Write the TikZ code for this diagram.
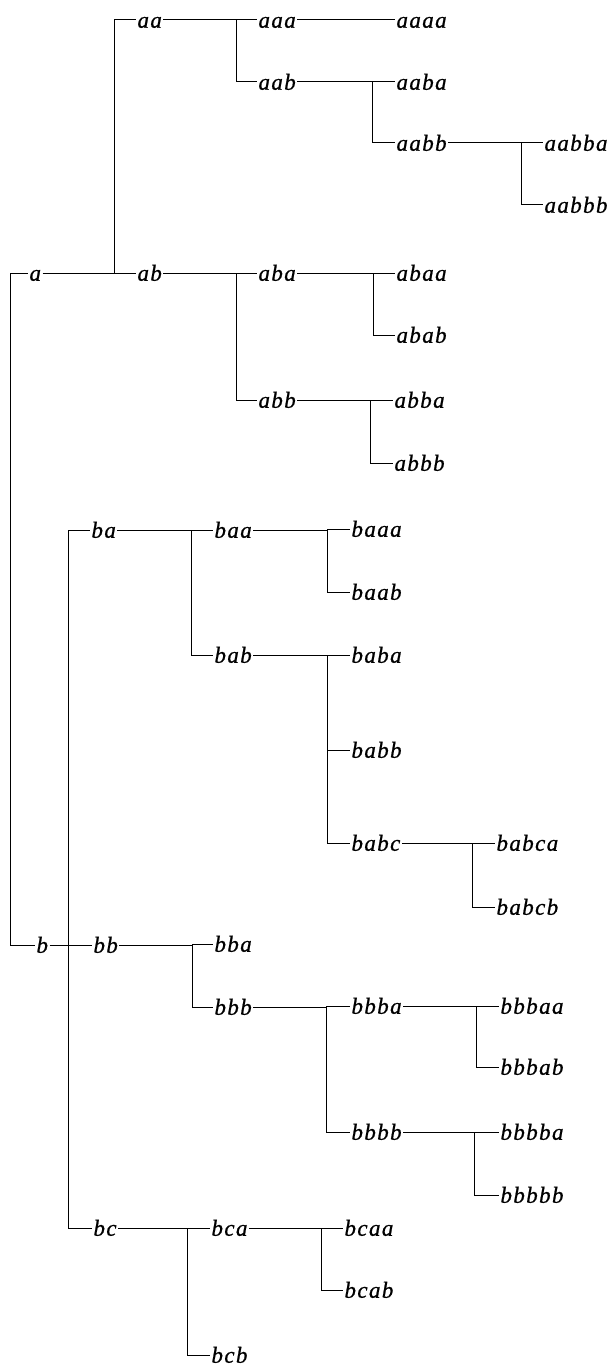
\documentclass[tikz,border=0pt]{standalone}
\usepackage{fontspec}
\newfontfamily\labfont{Liberation Serif}[LetterSpace=6,FakeBold=0.8]
\begin{document}
\begin{tikzpicture}[x=1bp,y=-1bp,
  lab/.style={anchor=west,inner sep=0pt,outer sep=1.5bp,text height=15.5bp,text depth=0pt,
    font=\labfont\fontsize{23bp}{25bp}\selectfont\itshape},
  ln/.style={line width=1bp,black}]
\useasboundingbox (0,0) rectangle (614,1370);
\newcommand\kids[5]{%
  \draw[ln] (#1.east) -- (#1.east -| #2);
  \draw[ln] (#3.west -| #2) -- (#4.west -| #2);
  \foreach \c in {#5} { \draw[ln] (\c.west -| #2) -- (\c.west); }
}
% labels
\node[lab] (a) at (28,273) {a};
\node[lab] (aa) at (136,20) {aa};
\node[lab] (ab) at (136,273) {ab};
\node[lab] (aaa) at (257,20) {aaa};
\node[lab] (aab) at (257,82) {aab};
\node[lab] (aaaa) at (395,20) {aaaa};
\node[lab] (aaba) at (395,82) {aaba};
\node[lab] (aabb) at (395,143) {aabb};
\node[lab] (aabba) at (543,143) {aabba};
\node[lab] (aabbb) at (543,205) {aabbb};
\node[lab] (aba) at (257,273) {aba};
\node[lab] (abb) at (257,400) {abb};
\node[lab] (abaa) at (395,273) {abaa};
\node[lab] (abab) at (395,335) {abab};
\node[lab] (abba) at (393,400) {abba};
\node[lab] (abbb) at (393,463) {abbb};
\node[lab] (b) at (35,945) {b};
\node[lab] (ba) at (90,530) {ba};
\node[lab] (bb) at (92,945) {bb};
\node[lab] (bc) at (92,1228) {bc};
\node[lab] (baa) at (213,530) {baa};
\node[lab] (bab) at (213,655) {bab};
\node[lab] (baaa) at (350,529) {baaa};
\node[lab] (baab) at (350,592) {baab};
\node[lab] (baba) at (350,655) {baba};
\node[lab] (babb) at (350,750) {babb};
\node[lab] (babc) at (350,843) {babc};
\node[lab] (babca) at (495,843) {babca};
\node[lab] (babcb) at (495,907) {babcb};
\node[lab] (bba) at (213,944) {bba};
\node[lab] (bbb) at (213,1007) {bbb};
\node[lab] (bbba) at (350,1006) {bbba};
\node[lab] (bbbb) at (350,1132) {bbbb};
\node[lab] (bbbaa) at (499,1006) {bbbaa};
\node[lab] (bbbab) at (499,1067) {bbbab};
\node[lab] (bbbba) at (499,1132) {bbbba};
\node[lab] (bbbbb) at (499,1195) {bbbbb};
\node[lab] (bca) at (210,1228) {bca};
\node[lab] (bcb) at (210,1355) {bcb};
\node[lab] (bcaa) at (343,1228) {bcaa};
\node[lab] (bcab) at (343,1290) {bcab};
% vertical positions
\coordinate (v0) at (10,0);
\coordinate (va) at (114,0);
\coordinate (vaa) at (236,0);
\coordinate (vaab) at (372,0);
\coordinate (vaabb) at (521,0);
\coordinate (vab) at (236,0);
\coordinate (vaba) at (373,0);
\coordinate (vabb) at (370,0);
\coordinate (vb) at (68,0);
\coordinate (vba) at (191,0);
\coordinate (vbaa) at (327,0);
\coordinate (vbab) at (327,0);
\coordinate (vbabc) at (472,0);
\coordinate (vbb) at (192,0);
\coordinate (vbbb) at (326,0);
\coordinate (vbbba) at (476,0);
\coordinate (vbbbb) at (474,0);
\coordinate (vbc) at (187,0);
\coordinate (vbca) at (321,0);
% root
\draw[ln] (a.west -| v0) -- (b.west -| v0);
\draw[ln] (a.west -| v0) -- (a.west);
\draw[ln] (b.west -| v0) -- (b.west);
% families
\kids{a}{va}{aa}{ab}{aa,ab}
\kids{aa}{vaa}{aaa}{aab}{aaa,aab}
\draw[ln] (aaa.east) -- (aaaa.west);
\kids{aab}{vaab}{aaba}{aabb}{aaba,aabb}
\kids{aabb}{vaabb}{aabba}{aabbb}{aabba,aabbb}
\kids{ab}{vab}{aba}{abb}{aba,abb}
\kids{aba}{vaba}{abaa}{abab}{abaa,abab}
\kids{abb}{vabb}{abba}{abbb}{abba,abbb}
\kids{b}{vb}{ba}{bc}{ba,bb,bc}
\kids{ba}{vba}{baa}{bab}{baa,bab}
\kids{baa}{vbaa}{baaa}{baab}{baaa,baab}
\kids{bab}{vbab}{baba}{babc}{baba,babb,babc}
\kids{babc}{vbabc}{babca}{babcb}{babca,babcb}
\kids{bb}{vbb}{bba}{bbb}{bba,bbb}
\kids{bbb}{vbbb}{bbba}{bbbb}{bbba,bbbb}
\kids{bbba}{vbbba}{bbbaa}{bbbab}{bbbaa,bbbab}
\kids{bbbb}{vbbbb}{bbbba}{bbbbb}{bbbba,bbbbb}
\kids{bc}{vbc}{bca}{bcb}{bca,bcb}
\kids{bca}{vbca}{bcaa}{bcab}{bcaa,bcab}
\end{tikzpicture}
\end{document}
